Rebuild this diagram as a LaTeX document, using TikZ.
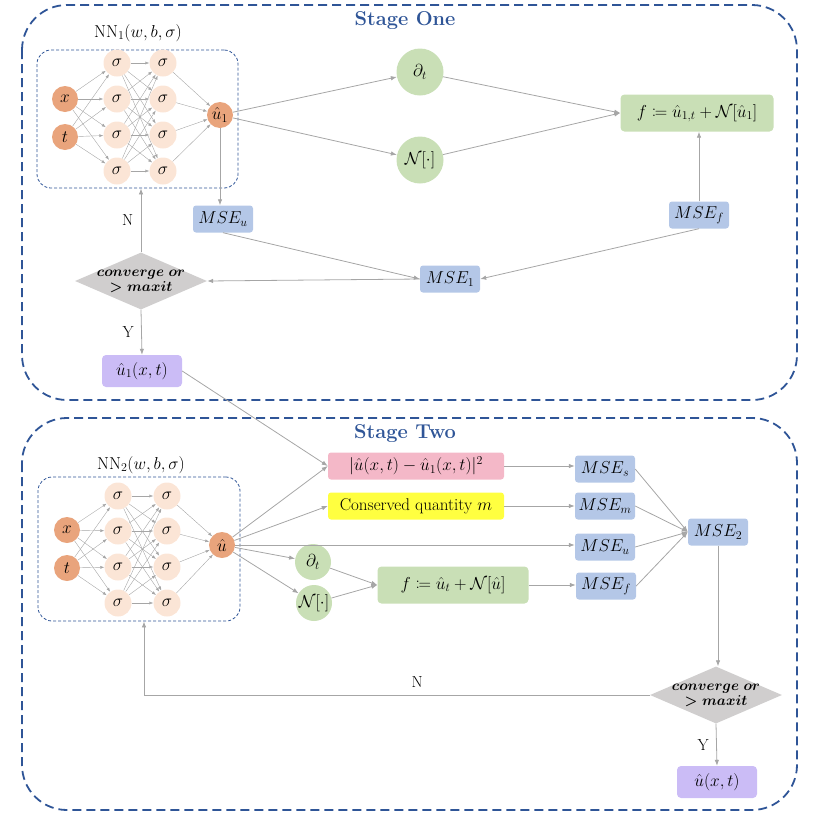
\documentclass[tikz,border=0pt]{standalone}
\usepackage{amsmath}
\usepackage{amssymb}
\usepackage{mathtools}
\usepackage{tikz}
\usepackage{xcolor}
\usetikzlibrary{arrows.meta, positioning, shapes.geometric, calc}
\definecolor{StageBlue}{HTML}{2F5597}
\definecolor{LineGray}{HTML}{A6A6A6}
\definecolor{IOOrange}{HTML}{E9A47C}
\definecolor{HidPeach}{HTML}{FBE5D6}
\definecolor{OpGreen}{HTML}{C9DFB6}
\definecolor{MSEBlue}{HTML}{B4C7E7}
\definecolor{ResPurple}{HTML}{CBBCF6}
\definecolor{LossPink}{HTML}{F4B8C8}
\definecolor{QtyYellow}{HTML}{FFFF40}
\definecolor{DecGray}{HTML}{D0CECE}
\newcommand{\boxfont}{\fontsize{17}{19}\selectfont}

\begin{document}
\begin{tikzpicture}[x=1pt, y=-1pt,
    link/.style={draw=LineGray, line width=0.8pt, -{Latex[length=6pt, width=4.5pt]}},
    nnlink/.style={draw=LineGray, line width=0.4pt, -{Latex[length=4pt, width=3pt]}},
    stagebox/.style={draw=StageBlue, line width=1.8pt, dash pattern=on 9pt off 5pt, rounded corners=45pt},
    nnbox/.style={draw=StageBlue, line width=0.8pt, dash pattern=on 3pt off 2pt, rounded corners=14pt},
    ionode/.style={circle, fill=IOOrange, minimum size=26pt, inner sep=0pt, font=\boxfont},
    hidden/.style={circle, fill=HidPeach, minimum size=27pt, inner sep=0pt, font=\boxfont},
    opnode/.style={circle, fill=OpGreen, inner sep=0pt, font=\boxfont},
    msebox/.style={fill=MSEBlue, rounded corners=3pt, minimum width=60pt, minimum height=27pt, inner sep=1pt, font=\boxfont},
    fbox/.style={fill=OpGreen, rounded corners=4pt, minimum height=37pt, inner sep=1pt, font=\boxfont},
    resbox/.style={fill=ResPurple, rounded corners=4pt, minimum width=80pt, minimum height=32pt, inner sep=1pt, font=\boxfont},
    decision/.style={diamond, fill=DecGray, aspect=2.3, minimum width=132pt, minimum height=57pt, inner sep=-7pt, align=center, font=\fontsize{15}{15}\selectfont},
    lbl/.style={font=\fontsize{16}{18}\selectfont},
    title/.style={font=\bfseries\fontsize{20}{22}\selectfont, text=StageBlue}
  ]
  \useasboundingbox (0,0) rectangle (817,817);

  % Stage frames
  \draw[stagebox] (22,5) rectangle (797,400);
  \draw[stagebox] (22,418) rectangle (797,810);
  \node[title] (stage1) at (405,21) {Stage One};
  \node[title] (stage2) at (405,434) {Stage Two};

  % ---------------- Stage one ----------------
  % Network one
  \node[nnbox, minimum width=201pt, minimum height=138pt] (nn1) at (137.5,119) {};
  \node[lbl, font=\fontsize{18}{20}\selectfont] (nn1lbl) at (138,33) {$\mathrm{NN}_1(w,b,\sigma)$};
  \node[ionode] (x1) at (65,99) {$x$};
  \node[ionode] (t1) at (65,137) {$t$};
  \foreach \i/\y in {1/63, 2/99, 3/135, 4/171} {
    \node[hidden] (ha\i) at (117,\y) {$\sigma$};
    \node[hidden] (hb\i) at (163,\y) {$\sigma$};
  }
  \node[ionode] (u1) at (220,115) {$\hat{u}_1$};
  \foreach \i in {1,...,4} {
    \draw[nnlink] (x1) -- (ha\i);
    \draw[nnlink] (t1) -- (ha\i);
    \foreach \j in {1,...,4}
      \draw[nnlink] (ha\i) -- (hb\j);
    \draw[nnlink] (hb\i) -- (u1);
  }

  % Operators and residual
  \node[opnode, minimum size=47pt] (dt1) at (420,72) {$\partial_t$};
  \node[opnode, minimum size=47pt] (op1) at (420,160) {$\mathcal{N}[\cdot]$};
  \node[fbox, minimum width=153pt] (f1) at (697,113) {$f \coloneqq \hat{u}_{1,t} + \mathcal{N}[\hat{u}_1]$};

  % Losses
  \node[msebox] (mseu1) at (223,219) {$MSE_u$};
  \node[msebox] (msef1) at (699,215) {$MSE_f$};
  \node[msebox] (mse1) at (450,279) {$MSE_1$};

  % Check and result
  \node[decision] (dec1) at (141,281) {$\boldsymbol{converge\ or}$\\$\boldsymbol{>maxit}$};
  \node[resbox] (res1) at (142,371) {$\hat{u}_1(x,t)$};

  \draw[link] (u1) -- (dt1);
  \draw[link] (u1) -- (op1);
  \draw[link] (dt1) -- (f1.west);
  \draw[link] (op1) -- (f1.west);
  \draw[link] (msef1.north) -- (msef1.north |- f1.south);
  \draw[link] (u1.south) -- (u1.south |- mseu1.north);
  \draw[link] (mseu1.south) -- (mse1.west);
  \draw[link] (msef1.south) -- (mse1.east);
  \draw[link] (mse1.west) -- (dec1.east);
  \draw[link] (dec1.north) -- node[lbl, left=4pt] {N} (dec1.north |- nn1.south);
  \draw[link] (dec1.south) -- node[lbl, left=4pt] {Y} (res1.north);

  % ---------------- Stage two ----------------
  % Network two
  \node[nnbox, minimum width=202pt, minimum height=144pt] (nn2) at (139,549) {};
  \node[lbl, font=\fontsize{18}{20}\selectfont] (nn2lbl) at (141,465) {$\mathrm{NN}_2(w,b,\sigma)$};
  \node[ionode] (x2) at (67,530) {$x$};
  \node[ionode] (t2) at (67,568) {$t$};
  \foreach \i/\y in {1/496, 2/531, 3/567, 4/603} {
    \node[hidden] (ka\i) at (118,\y) {$\sigma$};
    \node[hidden] (kb\i) at (167,\y) {$\sigma$};
  }
  \node[ionode] (u2) at (222,545) {$\hat{u}$};
  \foreach \i in {1,...,4} {
    \draw[nnlink] (x2) -- (ka\i);
    \draw[nnlink] (t2) -- (ka\i);
    \foreach \j in {1,...,4}
      \draw[nnlink] (ka\i) -- (kb\j);
    \draw[nnlink] (kb\i) -- (u2);
  }

  % Terms
  \node[fill=LossPink, rounded corners=3pt, minimum width=176pt, minimum height=27pt, inner sep=1pt, font=\boxfont] (diff) at (416,466) {$|\hat{u}(x,t)-\hat{u}_1(x,t)|^2$};
  \node[fill=QtyYellow, rounded corners=3pt, minimum width=176pt, minimum height=27pt, inner sep=1pt, font=\boxfont] (cons) at (416,506) {Conserved quantity $m$};
  \node[opnode, minimum size=36pt] (dt2) at (313,562) {$\partial_t$};
  \node[opnode, minimum size=36pt] (op2) at (314,603) {$\mathcal{N}[\cdot]$};
  \node[fbox, minimum width=151pt] (f2) at (453,585) {$f \coloneqq \hat{u}_t + \mathcal{N}[\hat{u}]$};

  % Losses
  \node[msebox] (mses) at (605,469) {$MSE_s$};
  \node[msebox] (msem) at (605,506) {$MSE_m$};
  \node[msebox] (mseu2) at (605,547) {$MSE_u$};
  \node[msebox] (msef2) at (606,586) {$MSE_f$};
  \node[msebox] (mse2) at (718,532) {$MSE_2$};

  % Check and result
  \node[decision] (dec2) at (716,695) {$\boldsymbol{converge\ or}$\\$\boldsymbol{>maxit}$};
  \node[resbox] (res2) at (717,782) {$\hat{u}(x,t)$};

  \draw[link] (res1.east) -- (diff.west);
  \draw[link] (u2) -- (diff.west);
  \draw[link] (u2) -- (cons.west);
  \draw[link] (u2.east) -- (u2.east -| mseu2.west);
  \draw[link] (u2) -- (dt2);
  \draw[link] (u2) -- (op2);
  \draw[link] (dt2) -- (f2.west);
  \draw[link] (op2) -- (f2.west);
  \draw[link] (diff.east) -- (diff.east -| mses.west);
  \draw[link] (cons.east) -- (cons.east -| msem.west);
  \draw[link] (f2.east) -- (f2.east -| msef2.west);
  \draw[link] (mses.east) -- (mse2.west);
  \draw[link] (msem.east) -- (mse2.west);
  \draw[link] (mseu2.east) -- (mse2.west);
  \draw[link] (msef2.east) -- (mse2.west);
  \draw[link] (mse2.south) -- (mse2.south |- dec2.north);
  \draw[link] (dec2.west) -| node[lbl, above=4pt, pos=0.23] {N} ([xshift=5pt]nn2.south);
  \draw[link] (dec2.south) -- node[lbl, left=4pt] {Y} (res2.north);
\end{tikzpicture}
\end{document}
